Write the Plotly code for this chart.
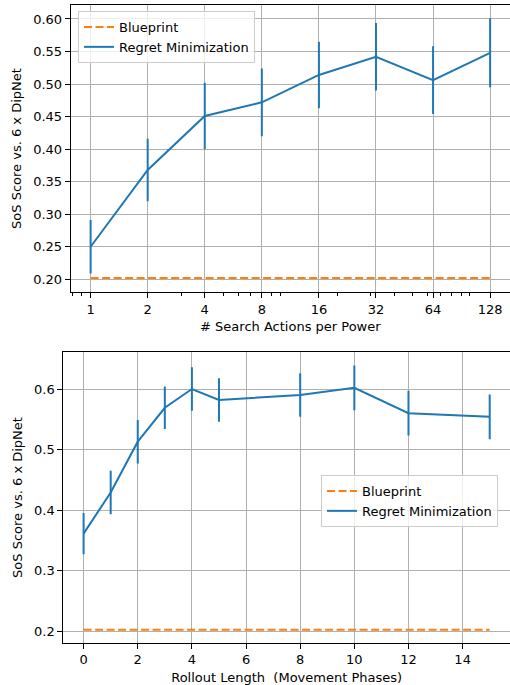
import plotly.graph_objects as go

# Top panel data
search_actions = [1, 2, 4, 8, 16, 32, 64, 128]
search_scores = [0.250, 0.368, 0.451, 0.472, 0.514, 0.542, 0.506, 0.548]
search_err = [0.041, 0.048, 0.051, 0.052, 0.051, 0.052, 0.052, 0.053]
search_blueprint = [0.202] * len(search_actions)
search_ticks = [1, 2, 4, 8, 16, 32, 64, 128]
search_minor = [0.7, 0.8, 0.9, 3, 5, 6, 7, 9, 10, 20, 30, 40, 50, 60, 70, 80, 90, 100]
top_yticks = [0.20, 0.25, 0.30, 0.35, 0.40, 0.45, 0.50, 0.55, 0.60]

# Bottom panel data
rollout_len = [0, 1, 2, 3, 4, 5, 8, 10, 12, 15]
rollout_scores = [0.361, 0.429, 0.513, 0.569, 0.600, 0.582, 0.590, 0.602, 0.560, 0.554]
rollout_err = [0.034, 0.036, 0.036, 0.035, 0.036, 0.036, 0.036, 0.037, 0.037, 0.037]
rollout_blueprint_x = [0, 15]
rollout_blueprint = [0.202, 0.202]
bottom_xticks = [0, 2, 4, 6, 8, 10, 12, 14]
bottom_yticks = [0.2, 0.3, 0.4, 0.5, 0.6]

BLUE = "#1f77b4"
ORANGE = "#ff7f0e"
FONT = "DejaVu Sans"
W, H = 510, 685
DASH = "8px,3.5px"

fig = go.Figure()

fig.add_trace(go.Scatter(x=search_actions, y=search_blueprint, mode="lines",
                         line=dict(color=ORANGE, width=2, dash=DASH),
                         name="Blueprint", xaxis="x", yaxis="y", legend="legend"))
fig.add_trace(go.Scatter(x=search_actions, y=search_scores, mode="lines",
                         line=dict(color=BLUE, width=2),
                         error_y=dict(type="data", array=search_err, color=BLUE,
                                      thickness=2, width=0),
                         name="Regret Minimization", xaxis="x", yaxis="y", legend="legend"))

fig.add_trace(go.Scatter(x=rollout_blueprint_x, y=rollout_blueprint, mode="lines",
                         line=dict(color=ORANGE, width=2, dash=DASH),
                         name="Blueprint", xaxis="x2", yaxis="y2", legend="legend2"))
fig.add_trace(go.Scatter(x=rollout_len, y=rollout_scores, mode="lines",
                         line=dict(color=BLUE, width=2),
                         error_y=dict(type="data", array=rollout_err, color=BLUE,
                                      thickness=2, width=0),
                         name="Regret Minimization", xaxis="x2", yaxis="y2", legend="legend2"))

axis_common = dict(showline=True, linecolor="black", linewidth=1, mirror=True,
                   ticks="outside", ticklen=5, tickcolor="black",
                   showgrid=True, gridcolor="#b0b0b0", gridwidth=1,
                   zeroline=False, tickfont=dict(family=FONT, size=13, color="black"))

legend_common = dict(bgcolor="rgba(255,255,255,0.8)", bordercolor="#cccccc", borderwidth=1,
                     font=dict(family=FONT, size=13, color="black"),
                     xanchor="left", yanchor="top", tracegroupgap=0)

fig.update_layout(
    width=W, height=H, margin=dict(l=0, r=0, t=0, b=0),
    paper_bgcolor="white", plot_bgcolor="white",
    font=dict(family=FONT, size=13, color="black"),
    xaxis=dict(type="log", domain=[70.7 / W, 1.0], anchor="y",
               range=[-0.105, 2.212], tickmode="array", tickvals=search_ticks,
               ticktext=[str(v) for v in search_ticks],
               minor=dict(tickmode="array", tickvals=search_minor, ticks="outside",
                          ticklen=2.5, tickcolor="black", showgrid=False),
               title=dict(text="# Search Actions per Power", font=dict(family=FONT, size=13), standoff=6),
               **axis_common),
    yaxis=dict(domain=[1 - 292 / H, 1 - 5 / H], anchor="x", range=[0.1805, 0.6215],
               tickmode="array", tickvals=top_yticks,
               ticktext=[f"{v:.2f}" for v in top_yticks],
               title=dict(text="SoS Score vs. 6 x DipNet", font=dict(family=FONT, size=13), standoff=8),
               **axis_common),
    xaxis2=dict(domain=[63.3 / W, 1.0], anchor="y2", range=[-0.75, 15.75],
                tickmode="array", tickvals=bottom_xticks,
                title=dict(text="Rollout Length  (Movement Phases)", font=dict(family=FONT, size=13), standoff=6),
                **axis_common),
    yaxis2=dict(domain=[1 - 642.7 / H, 1 - 352.3 / H], anchor="x2", range=[0.1807, 0.6607],
                tickmode="array", tickvals=bottom_yticks,
                ticktext=[f"{v:.1f}" for v in bottom_yticks],
                title=dict(text="SoS Score vs. 6 x DipNet", font=dict(family=FONT, size=13), standoff=8),
                **axis_common),
    legend=dict(x=78 / W, y=1 - 11 / H, **legend_common),
    legend2=dict(x=321 / W, y=1 - 475 / H, **legend_common),
    showlegend=True,
)

fig.write_html("out.html")
